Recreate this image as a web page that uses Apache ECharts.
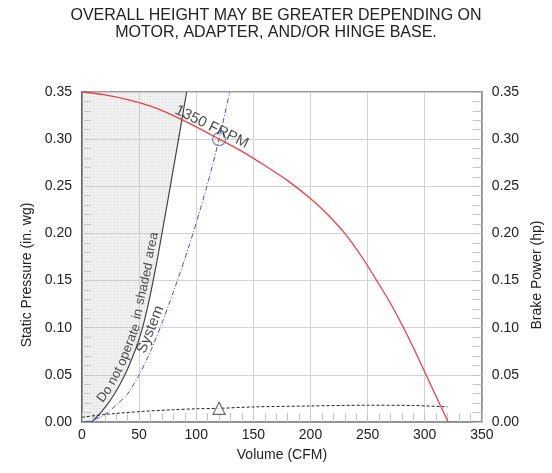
<!DOCTYPE html>
<html>
<head>
<meta charset="utf-8">
<script src="https://cdn.jsdelivr.net/npm/echarts@6/dist/echarts.min.js"></script>
<style>html,body{margin:0;padding:0;background:#fff}#c{width:552px;height:473px}</style>
</head>
<body>
<div id="c"></div>
<script>
// ---- data ----
const titleLines = ['OVERALL HEIGHT MAY BE GREATER DEPENDING ON', 'MOTOR, ADAPTER, AND/OR HINGE BASE.'];
const xName = 'Volume (CFM)';
const yLeftName = 'Static Pressure (in. wg)';
const yRightName = 'Brake Power (hp)';

// fan curve 1350 FRPM: volume (CFM) / static pressure
const fanCFM = [0, 20, 40, 60, 80, 100, 120, 140, 160, 180, 200, 215, 230, 245, 258, 270, 281, 290, 300, 310, 320.5];
const fanSP  = [0.350, 0.347, 0.342, 0.335, 0.325, 0.313, 0.300, 0.287, 0.272, 0.256, 0.237, 0.220, 0.200, 0.175, 0.150, 0.126, 0.101, 0.079, 0.053, 0.027, 0.000];

// boundary of "do not operate" shaded area
const shadeCFM = [0, 8, 12.5, 16.5, 23, 28.5, 33.3, 37.5, 41.2, 47.8, 53, 58, 62.3, 66.3, 70, 77.3, 84.5, 91.6];
const shadeSP  = [0, 0, 0.005, 0.01, 0.02, 0.03, 0.04, 0.05, 0.06, 0.08, 0.10, 0.125, 0.15, 0.175, 0.20, 0.25, 0.30, 0.35];

// system curve
const sysCFM = [3, 10, 20, 30, 40, 50, 60, 70, 80, 90, 100, 110, 120, 129.3];
const sysSP  = [0, 0.002, 0.008, 0.018, 0.030, 0.050, 0.075, 0.105, 0.138, 0.173, 0.211, 0.253, 0.300, 0.350];

// brake power
const bpCFM = [0, 20, 50, 80, 100, 120, 150, 200, 250, 290, 320];
const bpHP  = [0.005, 0.008, 0.011, 0.013, 0.014, 0.0145, 0.016, 0.017, 0.0178, 0.0175, 0.016];

// operating point
const opCFM = 120, opSP = 0.30, opHP = 0.0145;

// annotation texts
const fanLabel = '1350 FRPM';
const sysLabel = 'System';
const warnWords = ['Do', 'not', 'operate', 'in', 'shaded', 'area'];
const warnPos = [[19.9, 0.0294], [29.2, 0.0488], [41.2, 0.0817], [48.8, 0.1147], [54.6, 0.1467], [61.1, 0.1875]];
const warnRot = [54, 62, 69, 75, 77, 78];
const fanLabelPos = [113.5, 0.313];
const sysLabelPos = [60, 0.098];

const pair = (a, b) => a.map((v, i) => [v, b[i]]);

// dotted hatch pattern for the shaded area
const pc = document.createElement('canvas');
pc.width = 3; pc.height = 3;
const pctx = pc.getContext('2d');
pctx.fillStyle = 'rgba(205,205,205,0.30)';
pctx.fillRect(0, 0, 3, 3);
pctx.fillStyle = 'rgba(180,180,180,0.35)';
pctx.fillRect(0, 0, 1, 1);

const FONT = 'Liberation Sans, Arial, Helvetica, sans-serif';
const chart = echarts.init(document.getElementById('c'), null, {renderer: 'canvas'});

const yAxisBase = (pos, name, lineColor) => ({
  type: 'value', position: pos, min: 0, max: 0.35, interval: 0.05,
  name: name, nameLocation: 'middle', nameGap: pos === 'left' ? 45 : 40, nameRotate: 90,
  nameTextStyle: {fontFamily: FONT, fontSize: 14, color: '#222', padding: [0, 36, 0, 0]},
  axisLine: {show: true, lineStyle: {color: lineColor, width: 1.5}},
  axisTick: {show: true, inside: true, length: 9, lineStyle: {color: '#c4c4c4'}},
  minorTick: {show: true, splitNumber: 5, length: 9, lineStyle: {color: '#c4c4c4'}},
  axisLabel: {fontFamily: FONT, fontSize: 14, color: '#222', margin: 10, formatter: v => v.toFixed(2)},
  splitLine: {show: pos === 'left', lineStyle: {color: '#d2d2d2', width: 1}}
});

const textSeries = (items, fontSize) => ({
  type: 'scatter', symbolSize: 0, silent: true, z: 10,
  data: items.map(it => ({value: it.pos, label: {show: true, position: 'inside', formatter: it.text, rotate: it.rot,
    fontFamily: FONT, fontSize: fontSize, color: '#222'}}))
});

chart.setOption({
  animation: false,
  backgroundColor: '#fff',
  title: {
    text: titleLines.join('\n'), left: 'center', top: 2,
    textStyle: {fontFamily: FONT, fontSize: 16, fontWeight: 'normal', color: '#222', lineHeight: 17}
  },
  grid: {left: 82, right: 70, top: 92, bottom: 51, show: true, borderColor: '#777', borderWidth: 1.5, containLabel: false},
  xAxis: {
    type: 'value', min: 0, max: 350, interval: 50,
    name: xName, nameLocation: 'middle', nameGap: 26,
    nameTextStyle: {fontFamily: FONT, fontSize: 14, color: '#222'},
    axisLine: {show: true, lineStyle: {color: '#888', width: 1.5}},
    axisTick: {show: true, inside: true, length: 9, lineStyle: {color: '#c4c4c4'}},
    minorTick: {show: true, splitNumber: 5, length: 9, lineStyle: {color: '#c4c4c4'}},
    axisLabel: {fontFamily: FONT, fontSize: 14, color: '#222', margin: 6},
    splitLine: {show: true, lineStyle: {color: '#d2d2d2', width: 1}}
  },
  yAxis: [yAxisBase('left', yLeftName, '#555'), yAxisBase('right', yRightName, '#999')],
  series: [
    {
      type: 'line', data: pair(shadeCFM, shadeSP), symbol: 'none', smooth: 0.25,
      lineStyle: {color: '#444', width: 1.2},
      areaStyle: {origin: 'end', color: {image: pc, repeat: 'repeat'}, opacity: 1},
      z: 3
    },
    {
      type: 'line', data: pair(sysCFM, sysSP), symbol: 'none', smooth: 0.25,
      lineStyle: {color: '#4a4ad0', width: 1, type: [5, 2, 1, 2]}, z: 4
    },
    {
      type: 'line', data: pair(fanCFM, fanSP), symbol: 'none', smooth: 0.3,
      lineStyle: {color: '#e8404a', width: 1.3}, z: 5
    },
    {
      type: 'line', yAxisIndex: 1, data: pair(bpCFM, bpHP), symbol: 'none', smooth: 0.3,
      lineStyle: {color: '#222', width: 1, type: [3, 2]}, z: 4
    },
    {
      type: 'scatter', data: [[opCFM, opSP]], symbol: 'circle', symbolSize: 13,
      itemStyle: {color: 'rgba(0,0,0,0)', borderColor: '#5b6b85', borderWidth: 1.2}, z: 6
    },
    {
      type: 'scatter', yAxisIndex: 1, data: [[opCFM, opHP]], symbol: 'triangle', symbolSize: 12,
      itemStyle: {color: '#fff', borderColor: '#444', borderWidth: 1.2}, z: 6
    },
    textSeries([{pos: fanLabelPos, text: fanLabel, rot: -26}], 15),
    textSeries([{pos: sysLabelPos, text: sysLabel, rot: 68}], 15),
    textSeries(warnWords.map((w, i) => ({pos: warnPos[i], text: w, rot: warnRot[i]})), 13)
  ]
});
</script>
</body>
</html>
